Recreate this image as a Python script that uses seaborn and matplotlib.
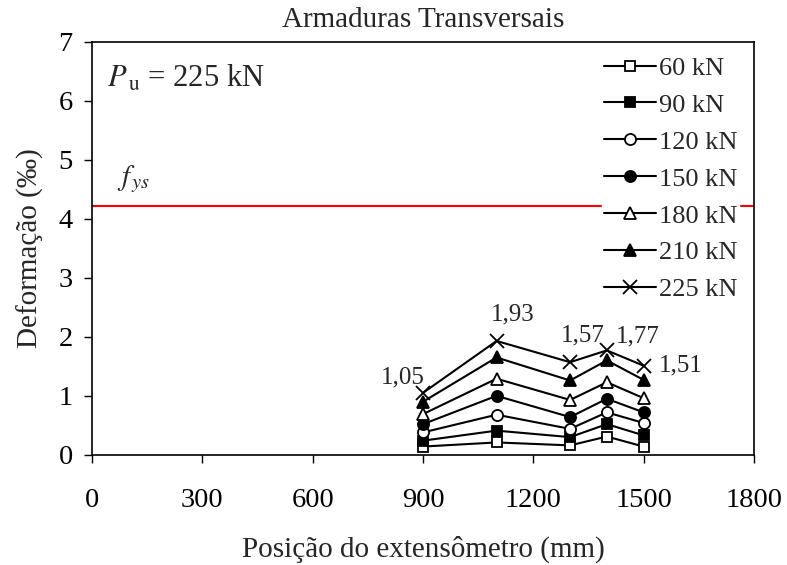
import pandas as pd
import matplotlib.pyplot as plt
import seaborn as sns

posicao = [900, 1100, 1300, 1400, 1500]
cargas = ['60 kN', '90 kN', '120 kN', '150 kN', '180 kN', '210 kN', '225 kN']
def_60 = [0.14, 0.21, 0.16, 0.31, 0.14]
def_90 = [0.24, 0.41, 0.30, 0.52, 0.33]
def_120 = [0.38, 0.68, 0.44, 0.72, 0.54]
def_150 = [0.52, 1.00, 0.64, 0.95, 0.72]
def_180 = [0.69, 1.29, 0.93, 1.23, 0.96]
def_210 = [0.90, 1.65, 1.26, 1.60, 1.27]
def_225 = [1.05, 1.93, 1.57, 1.77, 1.51]
rotulos = ['1,05', '1,93', '1,57', '1,77', '1,51']
fys = 4.22

series = [def_60, def_90, def_120, def_150, def_180, def_210, def_225]
linhas = []
for carga, vals in zip(cargas, series):
    for x, y in zip(posicao, vals):
        linhas.append({'pos': x, 'def': y, 'carga': carga})
df = pd.DataFrame(linhas)

sns.set_style('white')
plt.rcParams['font.family'] = ['Liberation Serif', 'DejaVu Serif']
plt.rcParams['mathtext.fontset'] = 'stix'

fig = plt.figure(figsize=(7.87, 5.65), dpi=100)
ax = fig.add_axes([0.117, 0.195, 0.841, 0.731])

# estilos dos marcadores
estilos = {
    '60 kN': ('s', 'white', 7),
    '90 kN': ('s', 'black', 7),
    '120 kN': ('o', 'white', 8),
    '150 kN': ('o', 'black', 8),
    '180 kN': ('^', 'white', 8),
    '210 kN': ('^', 'black', 8),
    '225 kN': ('x', 'black', 10),
}

ax.axhline(fys, color='red', lw=1.5, zorder=1)

for carga in cargas:
    m, fc, ms = estilos[carga]
    sub = df[df['carga'] == carga]
    sns.lineplot(data=sub, x='pos', y='def', ax=ax, color='black', lw=1.5,
                 marker=m, markersize=ms, markerfacecolor=fc,
                 markeredgecolor='black', markeredgewidth=1.3,
                 label=carga, zorder=3)

# rótulos da série de 225 kN
desloc = [(1, 11, 'right'), (12, 19, 'center'), (9, 19, 'center'),
          (22, 10, 'center'), (11, 0, 'left')]
for x, y, txt, (dx, dy, ha) in zip(posicao, def_225, rotulos, desloc):
    ax.annotate(txt, (x, y), xytext=(dx, dy), textcoords='offset points',
                ha=ha, va='center', fontsize=18)

ax.text(41, 6.38, r'$P_{\,\rm u}$ = 225 kN', fontsize=22, va='center')
ax.text(68, 4.68, r'$f_{\,ys}$', fontsize=21, va='center')

ax.set_xlim(0, 1800)
ax.set_ylim(0, 7)
ax.set_xticks(range(0, 1801, 300))
ax.set_yticks(range(0, 8))
ax.tick_params(direction='out', length=6, width=1, labelsize=20.5,
               left=True, bottom=True, colors='black')
ax.tick_params(axis='x', pad=18)
ax.tick_params(axis='y', pad=8)
for s in ax.spines.values():
    s.set_color('black')
    s.set_linewidth(1.2)

ax.set_title('Armaduras Transversais', fontsize=21, pad=11)
ax.set_xlabel('Posição do extensômetro (mm)', fontsize=21, labelpad=16)
ax.set_ylabel('Deformação (‰)', fontsize=21, labelpad=10)

leg = ax.legend(loc='upper right', bbox_to_anchor=(0.997, 1.0), frameon=True,
                fontsize=19, handlelength=2.0, handletextpad=0.1,
                labelspacing=0.51, borderpad=0.05, fancybox=False)
leg.get_frame().set_edgecolor('white')
leg.get_frame().set_facecolor('white')
leg.get_frame().set_alpha(1)

fig.savefig('out.png', dpi=100)
